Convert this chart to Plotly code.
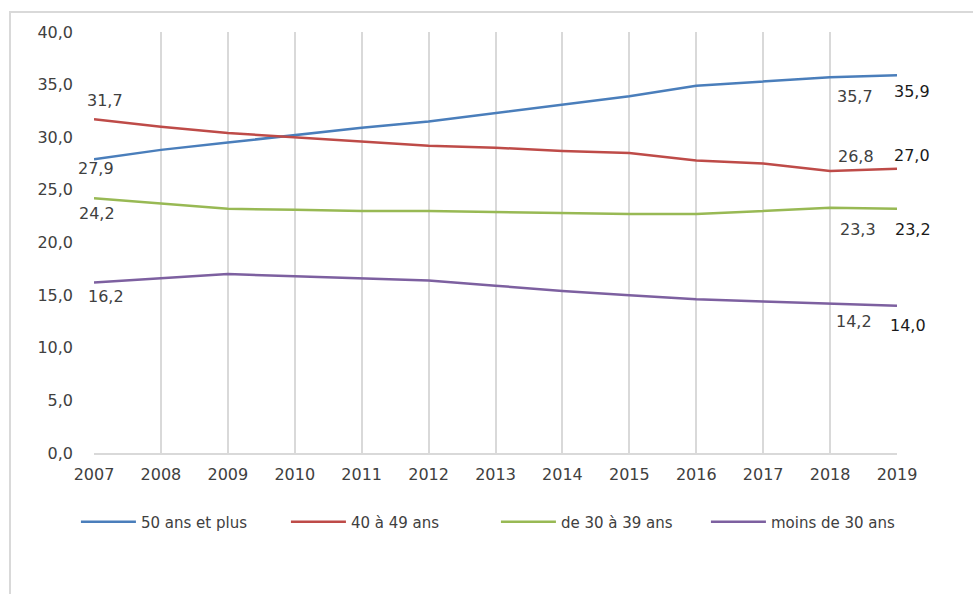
import plotly.graph_objects as go

years = list(range(2007, 2020))

series_names = ["50 ans et plus", "40 à 49 ans", "de 30 à 39 ans", "moins de 30 ans"]
plus_50 = [27.9, 28.8, 29.5, 30.2, 30.9, 31.5, 32.3, 33.1, 33.9, 34.9, 35.3, 35.7, 35.9]
age_40_49 = [31.7, 31.0, 30.4, 30.0, 29.6, 29.2, 29.0, 28.7, 28.5, 27.8, 27.5, 26.8, 27.0]
age_30_39 = [24.2, 23.7, 23.2, 23.1, 23.0, 23.0, 22.9, 22.8, 22.7, 22.7, 23.0, 23.3, 23.2]
under_30 = [16.2, 16.6, 17.0, 16.8, 16.6, 16.4, 15.9, 15.4, 15.0, 14.6, 14.4, 14.2, 14.0]

y_ticks = [0, 5, 10, 15, 20, 25, 30, 35, 40]

colors = ["#4A7EBB", "#BE4B48", "#98B954", "#7D60A0"]
all_series = [plus_50, age_40_49, age_30_39, under_30]

FONT = "DejaVu Sans"

fig = go.Figure()
for name, vals, col in zip(series_names, all_series, colors):
    fig.add_trace(go.Scatter(
        x=years, y=vals, mode="lines", name=name,
        line=dict(color=col, width=2.5),
    ))

# value labels on the first and last two years: (series index, year index, dx, dy, colour)
label_spots = [
    (1, 0, 11, 19, "#404040"),
    (0, 0, 2, -9, "#404040"),
    (2, 0, 3, -15, "#404040"),
    (3, 0, 12, -14, "#404040"),
    (0, 11, 25, -19, "#404040"),
    (0, 12, 15, -16, "#1a1a1a"),
    (1, 11, 26, 14, "#404040"),
    (1, 12, 15, 13, "#1a1a1a"),
    (2, 11, 28, -22, "#404040"),
    (2, 12, 16, -21, "#1a1a1a"),
    (3, 11, 24, -18, "#404040"),
    (3, 12, 11, -20, "#1a1a1a"),
]
for si, yi, dx, dy, col in label_spots:
    v = all_series[si][yi]
    fig.add_annotation(
        x=years[yi], y=v, xref="x", yref="y",
        text=f"{v:.1f}".replace(".", ","),
        showarrow=False, xshift=dx, yshift=dy,
        font=dict(family=FONT, size=16, color=col),
    )

# outer chart frame
fig.add_shape(type="rect", xref="paper", yref="paper",
              x0=-0.1046, x1=1.3, y0=-0.6, y1=1.0475,
              line=dict(color="#D9D9D9", width=2), layer="below")

fig.update_layout(
    width=973, height=594,
    margin=dict(l=94, r=76, t=32, b=141),
    paper_bgcolor="white", plot_bgcolor="white",
    separators=", ",
    showlegend=True,
    legend=dict(
        orientation="h", x=-0.0225, xanchor="left", y=-0.164, yanchor="middle",
        font=dict(family=FONT, size=15, color="#404040"),
        itemwidth=55, entrywidthmode="pixels", entrywidth=140,
    ),
    xaxis=dict(
        range=[2007, 2019], tickvals=years, ticktext=[str(y) for y in years],
        showgrid=True, gridcolor="#D9D9D9", gridwidth=2,
        showline=True, linecolor="#D9D9D9", linewidth=2,
        zeroline=False, ticks="", ticklabelstandoff=6,
        tickfont=dict(family=FONT, size=16, color="#404040"),
    ),
    yaxis=dict(
        range=[0, 40], tickvals=y_ticks, tickformat=".1f",
        showgrid=False, zeroline=False, showline=False, ticks="",
        ticklabelstandoff=20,
        tickfont=dict(family=FONT, size=16, color="#404040"),
    ),
)

fig.write_html("out.html")
